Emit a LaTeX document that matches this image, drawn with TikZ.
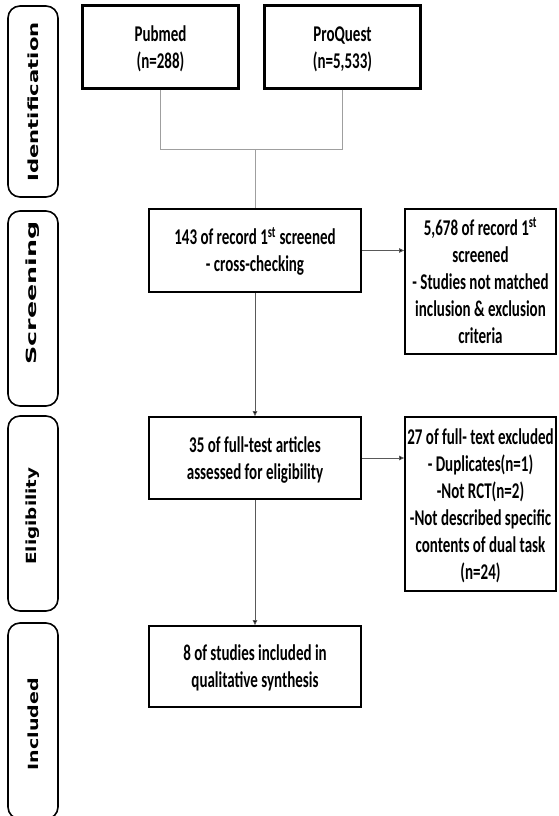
\documentclass[tikz,border=0pt]{standalone}
\usepackage{fontspec}
\usepackage{graphicx}
\setmainfont{Carlito}
\newfontfamily\phasefont{DejaVu Sans}
\usetikzlibrary{arrows.meta}
\newcommand{\bx}[1]{\raisebox{-2.5pt}[\height][\depth]{\scalebox{1}[1.5]{\begin{tabular}{@{}c@{}}#1\end{tabular}}}}
\newcommand{\phl}[2]{\rotatebox{90}{\scalebox{#1}[1]{#2}}}
\begin{document}
\begin{tikzpicture}[x=1pt,y=1pt,
  box/.style={draw=black, line width=1.8pt, inner sep=0pt, align=center,
    font=\fontsize{15}{18}\selectfont\bfseries},
  topbox/.style={box, line width=2.6pt, minimum width=156, minimum height=83},
  phasebox/.style={draw=black, line width=1.6pt, rounded corners=12pt, minimum width=50, inner sep=0pt},
  phaselabel/.style={inner sep=0pt, font=\phasefont\bfseries\fontsize{14}{16}\selectfont},
  tree/.style={draw=gray!75, line width=0.9pt},
  arr/.style={draw=black!65, line width=0.8pt, -{Triangle[length=5pt,width=4.5pt,fill=black]}}
]
\useasboundingbox (0,0) rectangle (559,-816);
\clip (0,0) rectangle (559,-816);

% phase boxes
\node[phasebox, minimum height=191] (p1) at (33,-101.5) {};
\node[phasebox, minimum height=195] (p2) at (33,-308.5) {};
\node[phasebox, minimum height=195] (p3) at (33,-513.5) {};
\node[phasebox, minimum height=196] (p4) at (33,-721) {};
\node[phaselabel] (l1) at (33,-102) {\phl{1.51}{Identification}};
\node[phaselabel] (l2) at (33,-293) {\phl{1.81}{Screening}};
\node[phaselabel] (l3) at (33,-516) {\phl{1.31}{Eligibility}};
\node[phaselabel] (l4) at (33,-724) {\phl{1.36}{Included}};

% main boxes
\node[topbox] (pub) at (160.5,-47) {\bx{Pubmed\\(n=288)}};
\node[topbox] (pq) at (342.5,-47) {\bx{ProQuest\\(n=5,533)}};
\node[box, minimum width=212, minimum height=83] (scr) at (255,-250.5)
  {\bx{143 of record 1\textsuperscript{st} screened\\- cross-checking}};
\node[box, minimum width=151, minimum height=145] (ex1) at (480.5,-281.5)
  {\bx{5,678 of record 1\textsuperscript{st}\\screened\\- Studies not matched\\inclusion \& exclusion\\criteria}};
\node[box, minimum width=212, minimum height=82] (elig) at (255,-458)
  {\bx{35 of full-test articles\\assessed for eligibility}};
\node[box, minimum width=151, minimum height=174] (ex2) at (480.5,-504)
  {\bx{27 of full- text excluded\\- Duplicates(n=1)\\-Not RCT(n=2)\\-Not described specific\\contents of dual task\\(n=24)}};
\node[box, minimum width=212, minimum height=81] (inc) at (255,-666.5)
  {\bx{8 of studies included in\\qualitative synthesis}};

% connectors
\coordinate (j) at (255,-149);
\draw[tree] (pub.south) |- (j);
\draw[tree] (pq.south) |- (j);
\draw[tree] (j) -- (scr.north);
\draw[arr] (scr.east) -- (ex1.west |- scr.east);
\draw[arr] (scr.south) -- (elig.north);
\draw[arr] (elig.east) -- (ex2.west |- elig.east);
\draw[arr] (elig.south) -- (inc.north);
\end{tikzpicture}
\end{document}
